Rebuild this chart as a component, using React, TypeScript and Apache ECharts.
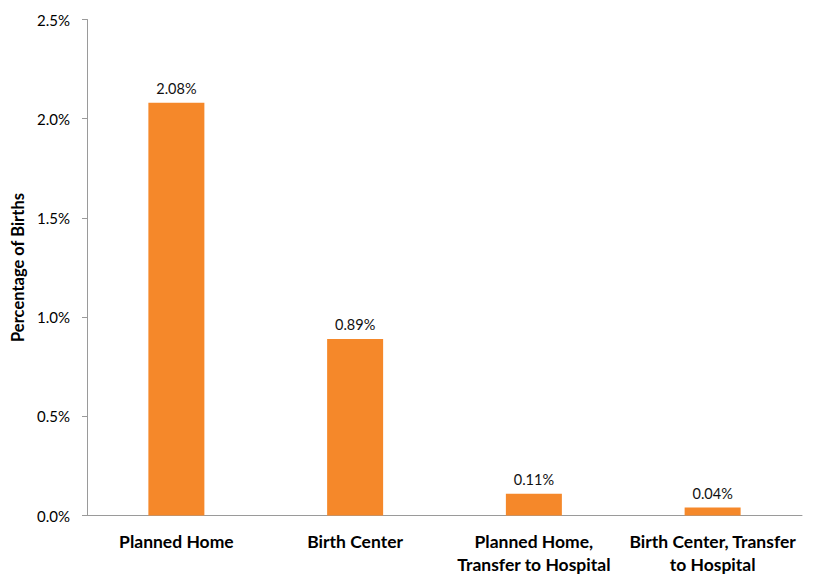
import React, { useEffect, useRef } from "react";
import * as echarts from "echarts";

const categories = [
  "Planned Home",
  "Birth Center",
  "Planned Home,\nTransfer to Hospital",
  "Birth Center, Transfer\nto Hospital",
];
const values = [2.08, 0.89, 0.11, 0.04];
const yTicks = { min: 0, max: 2.5, interval: 0.5 };

export default function App() {
  const ref = useRef<HTMLDivElement>(null);
  useEffect(() => {
    if (!ref.current) return;
    const chart = echarts.init(ref.current, null, { renderer: "svg" });
    const font = "Lato, 'Noto Sans', sans-serif";
    chart.setOption({
      animation: false,
      textStyle: { fontFamily: font },
      grid: { left: 87, right: 13, top: 19.5, bottom: 59, containLabel: false },
      xAxis: {
        type: "category",
        data: categories,
        axisLine: { lineStyle: { color: "#9a9a9a", width: 1 } },
        axisTick: { show: false },
        axisLabel: {
          color: "#000",
          fontWeight: "bold",
          fontSize: 17.5,
          lineHeight: 23,
          margin: 14.5,
          interval: 0,
          fontFamily: font,
        },
      },
      yAxis: {
        type: "value",
        min: yTicks.min,
        max: yTicks.max,
        interval: yTicks.interval,
        name: "Percentage of Births",
        nameLocation: "middle",
        nameGap: 54,
        nameRotate: 90,
        nameTextStyle: { fontWeight: "bold", fontSize: 16.5, color: "#000", fontFamily: font },
        axisLine: { show: true, lineStyle: { color: "#9a9a9a", width: 1 } },
        axisTick: { show: true, length: 5, lineStyle: { color: "#9a9a9a" } },
        splitLine: { show: false },
        axisLabel: {
          color: "#000",
          fontSize: 15,
          margin: 17,
          fontFamily: font,
          formatter: (v: number) => v.toFixed(1) + "%",
        },
      },
      series: [
        {
          type: "bar",
          data: values,
          barWidth: 56,
          itemStyle: { color: "#F5882A" },
          label: {
            show: true,
            position: "top",
            distance: 7,
            color: "#111",
            fontSize: 14.5,
            fontFamily: font,
            formatter: (p: any) => p.value.toFixed(2) + "%",
          },
        },
      ],
    });
    return () => chart.dispose();
  }, []);
  return (
    <div
      ref={ref}
      style={{ position: "absolute", left: 0, top: 0, width: 815, height: 576, background: "#fff" }}
    />
  );
}
